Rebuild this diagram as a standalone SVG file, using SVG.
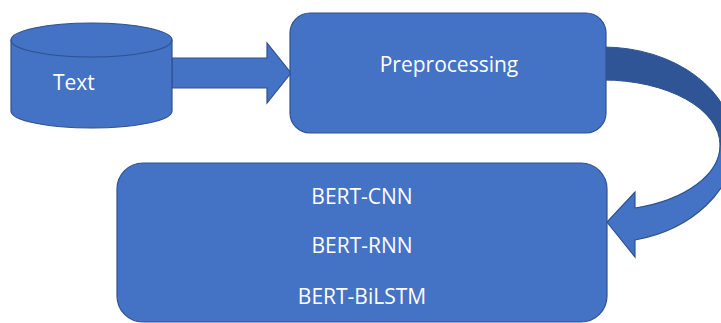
<svg xmlns="http://www.w3.org/2000/svg" width="721" height="323" viewBox="0 0 721 323">
<style>
.shape{fill:#4472C4;stroke:#2F528F;stroke-width:1.2}
.dark{fill:#2F5597;stroke:#2F528F;stroke-width:1}
.lbl{font-family:"Open Sans","Noto Sans",sans-serif;font-size:21px;fill:#FFFFFF}
</style>
<rect width="721" height="323" fill="#FFFFFF"/>
<g id="connectors">
<path class="shape" d="M172,58 L267,58 L267,43 L291,73 L267,103 L267,88 L172,88 Z"/>
<path class="dark" d="M603,47 A131,98 0 0 1 734,145 L720,145 A117,65 0 0 0 603,80 Z"/>
<path class="shape" d="M734,145 A131,98 0 0 1 635,240 L635,257 L607,222 L635,192 L635,208 A117,65 0 0 0 720,145 Z"/>
</g>
<g id="node-text">
<path class="shape" d="M11,40 L11,111 A80.5,17 0 0 0 172,111 L172,40 Z"/>
<ellipse class="shape" cx="91.5" cy="40" rx="80.5" ry="17"/>
<text class="lbl" x="53" y="90">Text</text>
</g>
<g id="node-preprocessing">
<rect class="shape" x="290" y="13" width="316" height="120" rx="20" ry="20"/>
<text class="lbl" x="449" y="72" text-anchor="middle">Preprocessing</text>
</g>
<g id="node-models">
<rect class="shape" x="117" y="163" width="490" height="159" rx="26" ry="26"/>
<text class="lbl" x="362" y="204" text-anchor="middle">BERT-CNN</text>
<text class="lbl" x="362" y="253" text-anchor="middle">BERT-RNN</text>
<text class="lbl" x="362" y="304" text-anchor="middle">BERT-BiLSTM</text>
</g>
</svg>
